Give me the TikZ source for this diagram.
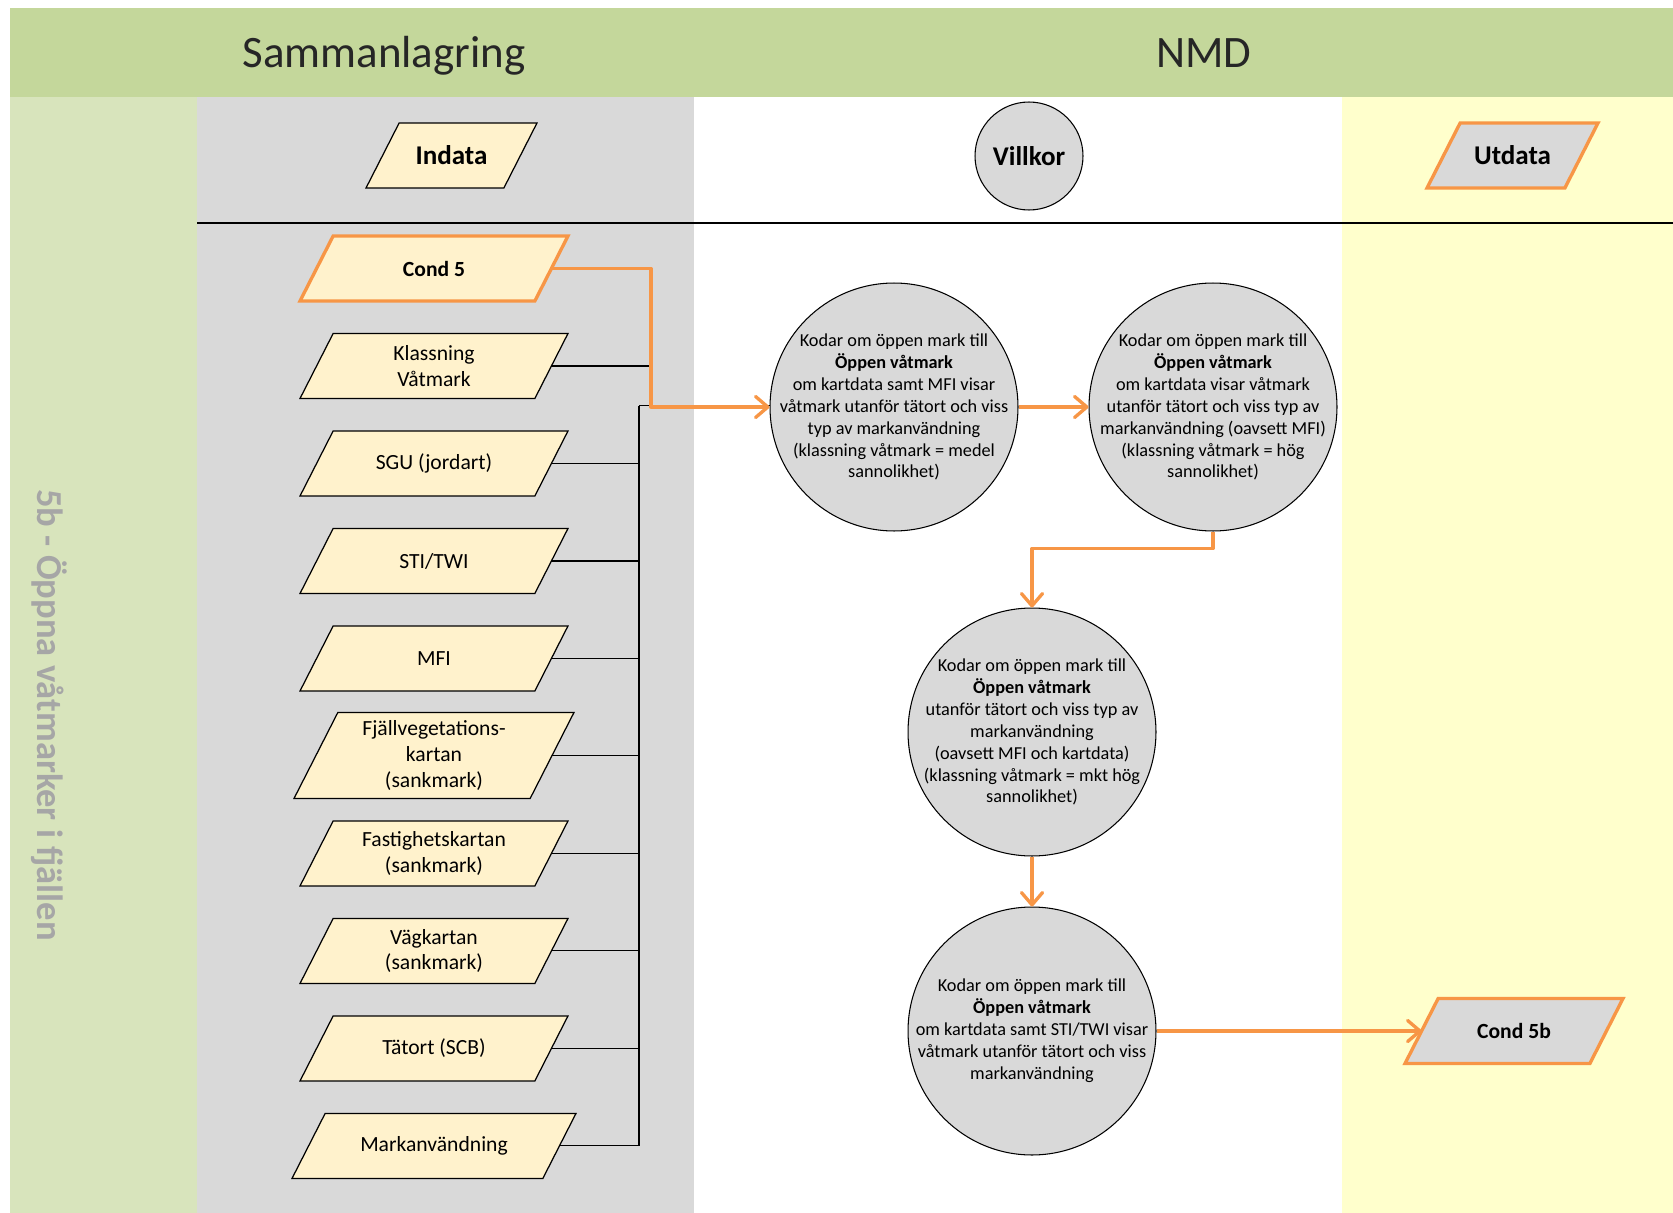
\documentclass[tikz,border=0pt]{standalone}
\usepackage{fontspec}
\setmainfont{Carlito}
\usepackage{tikz}
\usetikzlibrary{positioning,shapes.geometric,arrows.meta}
\definecolor{hdrgreen}{HTML}{C4D79B}
\definecolor{sidegreen}{HTML}{D8E4BC}
\definecolor{colgray}{HTML}{D9D9D9}
\definecolor{colyellow}{HTML}{FFFFCC}
\definecolor{creamfill}{HTML}{FFF2CC}
\definecolor{floworange}{HTML}{F79646}
\definecolor{sidegray}{HTML}{A6A6A6}

\begin{document}
\begin{tikzpicture}[
    x=0.02cm, y=-0.02cm,
    node distance=0.65cm,
    heading/.style={font=\fontsize{25.6}{30}\selectfont, text=black!85},
    boxtext/.style={align=center, font=\fontsize{12.3}{14.6}\selectfont},
    headtext/.style={align=center, font=\bfseries\fontsize{15.4}{18}\selectfont},
    indatabox/.style={trapezium, trapezium left angle=63, trapezium right angle=117,
                trapezium stretches body, draw, line width=0.7pt, fill=creamfill,
                inner xsep=0pt, inner ysep=0.65cm, outer sep=0pt, minimum width=5.36cm,
                label={[boxtext]center:#1}},
    condbox/.style={indatabox={#1}, draw=floworange, line width=1.9pt},
    utbox/.style={condbox={#1}, fill=colgray},
    kodcirkel/.style={circle, draw, line width=0.6pt, fill=colgray, minimum size=4.96cm,
                inner sep=-8pt, align=center, font=\fontsize{10.4}{12.5}\selectfont},
    flow/.style={draw=floworange, line width=1.9pt, line join=round,
                -{Straight Barb[length=7pt,width=12pt,round]}},
    bus/.style={draw=black, line width=0.6pt}
]
\useasboundingbox (0,0) rectangle (1673,1213);
\fill[hdrgreen] (10,8) rectangle (1673,97);
\fill[sidegreen] (10,97) rectangle (197,1213);
\fill[colgray] (197,97) rectangle (694,1213);
\fill[colyellow] (1342,97) rectangle (1673,1213);
\draw[line width=0.8pt] (197,223) -- (1673,223);

\node[heading] (sam) at (384,56) {Sammanlagring};
\node[heading] (nmd) at (1204,53) {NMD};
\node[rotate=-90, text=sidegray, font=\bfseries\fontsize{20.8}{24}\selectfont] (tema) at (49,715)
    {5b - Öppna våtmarker i fjällen};

\node[indatabox={}, minimum width=3.42cm, label={[headtext]center:Indata}] (indata) at (451.5,155.5) {};
\node[kodcirkel, font=\bfseries\fontsize{15.4}{18}\selectfont, minimum size=2.16cm, inner sep=2pt] (villkor) at (1029,156) {Villkor};
\node[utbox={}, minimum width=3.42cm, label={[headtext]center:Utdata}] (utdata) at (1512.5,155.5) {};

\node[condbox={\textbf{Cond 5}}] (cond5) at (434,268.5) {};
\node[indatabox={Klassning\\Våtmark}, below=of cond5] (klass) {};
\node[indatabox={SGU (jordart)}, below=of klass] (sgu) {};
\node[indatabox={STI/TWI}, below=of sgu] (sti) {};
\node[indatabox={MFI}, below=of sti] (mfi) {};
\node[indatabox={Fjällvegetations-\\kartan\\(sankmark)}, below=0.43cm of mfi,
      minimum width=5.6cm, inner ysep=0.86cm] (fjall) {};
\node[indatabox={Fastighetskartan\\(sankmark)}, below=0.45cm of fjall] (fast) {};
\node[indatabox={Vägkartan\\(sankmark)}, below=of fast] (vag) {};
\node[indatabox={Tätort (SCB)}, below=of vag] (tatort) {};
\node[indatabox={Markanvändning}, below=of tatort, minimum width=5.68cm] (mark) {};

\node[kodcirkel] (c1) at (894,407) {Kodar om öppen mark till\\\textbf{Öppen våtmark}\\om kartdata samt MFI visar\\våtmark utanför tätort och viss\\typ av markanvändning\\(klassning våtmark = medel\\sannolikhet)};
\node[kodcirkel] (c2) at (1213,407) {Kodar om öppen mark till\\\textbf{Öppen våtmark}\\om kartdata visar våtmark\\utanför tätort och viss typ av\\markanvändning (oavsett MFI)\\(klassning våtmark = hög\\sannolikhet)};
\node[kodcirkel] (c3) at (1032,732) {Kodar om öppen mark till\\\textbf{Öppen våtmark}\\utanför tätort och viss typ av\\markanvändning\\(oavsett MFI och kartdata)\\(klassning våtmark = mkt hög\\sannolikhet)};
\node[kodcirkel] (c4) at (1032,1031) {Kodar om öppen mark till\\\textbf{Öppen våtmark}\\om kartdata samt STI/TWI visar\\våtmark utanför tätort och viss\\markanvändning};
\node[utbox={\textbf{Cond 5b}}, minimum width=4.36cm] (cond5b) at (1514,1031) {};

\coordinate (join) at (651,407);
\coordinate (bustop) at (639,405.5);
\draw[bus] (bustop) |- (mark.east);
\draw[bus] (bustop) -- (bustop -| c1.west);
\draw[bus] (klass.east) -- (klass.east -| join);
\draw[bus] (sgu.east) -- (sgu.east -| bustop);
\draw[bus] (sti.east) -- (sti.east -| bustop);
\draw[bus] (mfi.east) -- (mfi.east -| bustop);
\draw[bus] (fjall.east) -- (fjall.east -| bustop);
\draw[bus] (fast.east) -- (fast.east -| bustop);
\draw[bus] (vag.east) -- (vag.east -| bustop);
\draw[bus] (tatort.east) -- (tatort.east -| bustop);

\draw[flow] (cond5.east) -| (join) -- (c1.west);
\draw[flow] (c1) -- (c2);
\draw[flow] (c2.south) -- ++(0,17) -| (c3.north);
\draw[flow] (c3) -- (c4);
\draw[flow] (c4) -- (cond5b);
\end{tikzpicture}
\end{document}
